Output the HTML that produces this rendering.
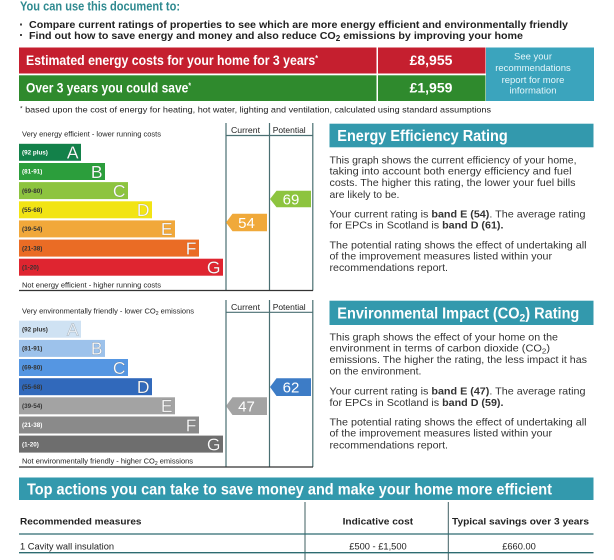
<!DOCTYPE html>
<html><head><meta charset="utf-8">
<style>
html,body{margin:0;padding:0;background:#fff;}
svg{display:block;}
text{font-family:"Liberation Sans",Arial,sans-serif;}
</style></head>
<body>
<svg width="614" height="560" viewBox="0 0 614 560" xmlns="http://www.w3.org/2000/svg">
<rect width="614" height="560" fill="#fff"/>

<!-- Header -->
<text x="20" y="10.5" font-size="12.5" font-weight="bold" fill="#2f8a90" textLength="160" lengthAdjust="spacingAndGlyphs">You can use this document to:</text>
<rect x="20" y="23.5" width="2" height="2" fill="#444"/>
<text x="29" y="28.2" font-size="10.5" font-weight="bold" fill="#222" textLength="539" lengthAdjust="spacingAndGlyphs">Compare current ratings of properties to see which are more energy efficient and environmentally friendly</text>
<rect x="20" y="34" width="2" height="2" fill="#444"/>
<text x="29" y="38.8" font-size="10.5" font-weight="bold" fill="#222" textLength="494" lengthAdjust="spacingAndGlyphs">Find out how to save energy and money and also reduce CO<tspan font-size="8" dy="2">2</tspan><tspan dy="-2"> emissions by improving your home</tspan></text>

<!-- Cost boxes -->
<rect x="19" y="47.5" width="357.5" height="26" fill="#c51f2f"/>
<rect x="378" y="47.5" width="107.5" height="26" fill="#c51f2f"/>
<rect x="19" y="75.3" width="357.5" height="25.7" fill="#2f8a2d"/>
<rect x="378" y="75.3" width="107.5" height="25.7" fill="#2f8a2d"/>
<rect x="486" y="47.5" width="108" height="53.5" fill="#3ba4bd"/>
<text x="26" y="65" font-size="14" font-weight="bold" fill="#fff" textLength="292" lengthAdjust="spacingAndGlyphs">Estimated energy costs for your home for 3 years<tspan font-size="8" dy="-4">*</tspan></text>
<text x="26" y="92.3" font-size="14" font-weight="bold" fill="#fff" textLength="165" lengthAdjust="spacingAndGlyphs">Over 3 years you could save<tspan font-size="8" dy="-4">*</tspan></text>
<text x="431" y="65" font-size="14" font-weight="bold" fill="#fff" text-anchor="middle">£8,955</text>
<text x="431" y="92.3" font-size="14" font-weight="bold" fill="#fff" text-anchor="middle">£1,959</text>
<g font-size="9.5" fill="#e6f6fa" text-anchor="middle">
<text x="533" y="59.5">See your</text>
<text x="533" y="71">recommendations</text>
<text x="533" y="83">report for more</text>
<text x="533" y="93.5">information</text>
</g>
<text x="20" y="112.5" font-size="8.3" fill="#222" textLength="471" lengthAdjust="spacingAndGlyphs"><tspan font-size="6" dy="-2">*</tspan><tspan dy="2"> based upon the cost of energy for heating, hot water, lighting and ventilation, calculated using standard assumptions</tspan></text>

<!-- Energy efficiency chart -->
<g stroke="#4a6f72" stroke-width="1.2" fill="none">
<line x1="226" y1="123" x2="226" y2="290.5"/>
<line x1="269.5" y1="123" x2="269.5" y2="290.5"/>
<line x1="312.8" y1="123" x2="312.8" y2="290.5"/>
<line x1="226" y1="135.5" x2="312.8" y2="135.5"/>
</g>
<line x1="19" y1="290.5" x2="313" y2="290.5" stroke="#333" stroke-width="1.2"/>
<text x="231" y="133.2" font-size="8.5" fill="#222" textLength="29" lengthAdjust="spacingAndGlyphs">Current</text>
<text x="272.7" y="133.2" font-size="8.5" fill="#222" textLength="33" lengthAdjust="spacingAndGlyphs">Potential</text>
<text x="22" y="136.3" font-size="7.3" fill="#222" textLength="139" lengthAdjust="spacingAndGlyphs">Very energy efficient - lower running costs</text>
<text x="22" y="287.3" font-size="7.3" fill="#222" textLength="139" lengthAdjust="spacingAndGlyphs">Not energy efficient - higher running costs</text>

<g>
<rect x="19" y="143.8" width="62" height="17" fill="#13814a"/>
<rect x="19" y="163" width="86" height="17" fill="#2c9e3c"/>
<rect x="19" y="182.1" width="109" height="17" fill="#8dc43f"/>
<rect x="19" y="201.3" width="133" height="17" fill="#f2e414"/>
<rect x="19" y="220.4" width="156" height="17" fill="#f1a83a"/>
<rect x="19" y="239.6" width="180" height="17" fill="#ea6c25"/>
<rect x="19" y="258.7" width="204" height="17" fill="#df2530"/>
</g>
<g font-size="6.3" font-weight="bold">
<text x="22" y="154.5" fill="#fff">(92 plus)</text>
<text x="22" y="173.7" fill="#fff">(81-91)</text>
<text x="22" y="192.8" fill="#333">(69-80)</text>
<text x="22" y="212" fill="#333">(55-68)</text>
<text x="22" y="231.1" fill="#333">(39-54)</text>
<text x="22" y="250.3" fill="#333">(21-38)</text>
<text x="22" y="269.4" fill="#333">(1-20)</text>
</g>
<g font-size="17.5" fill="#fff" text-anchor="end" stroke="rgba(0,0,0,0.18)" stroke-width="0.5">
<text x="78.5" y="158.6">A</text>
<text x="102.5" y="177.8">B</text>
<text x="125.5" y="196.9">C</text>
<text x="149.5" y="216.1">D</text>
<text x="172.5" y="235.2">E</text>
<text x="196.5" y="254.4">F</text>
<text x="220.5" y="273.5">G</text>
</g>
<polygon points="226,222.5 232.5,213.7 267,213.7 267,231.3 232.5,231.3" fill="#f0a93a"/>
<text x="246.5" y="228" font-size="15" fill="#fff" text-anchor="middle">54</text>
<polygon points="270,199 276.5,190.7 311,190.7 311,207.3 276.5,207.3" fill="#8dc43f"/>
<text x="291" y="204.5" font-size="15" fill="#fff" text-anchor="middle">69</text>

<!-- Energy Efficiency text panel -->
<rect x="329.5" y="123.7" width="264" height="23.6" fill="#3399ad"/>
<text x="337.3" y="141" font-size="15.5" font-weight="bold" fill="#fff" textLength="170.4" lengthAdjust="spacingAndGlyphs">Energy Efficiency Rating</text>
<g font-size="10.4" fill="#333">
<text x="329.5" y="163.4" textLength="247" lengthAdjust="spacingAndGlyphs">This graph shows the current efficiency of your home,</text>
<text x="329.5" y="174.6" textLength="242" lengthAdjust="spacingAndGlyphs">taking into account both energy efficiency and fuel</text>
<text x="329.5" y="186" textLength="246" lengthAdjust="spacingAndGlyphs">costs. The higher this rating, the lower your fuel bills</text>
<text x="329.5" y="197.8">are likely to be.</text>
<text x="329.5" y="217.4" textLength="256" lengthAdjust="spacingAndGlyphs">Your current rating is <tspan font-weight="bold">band E (54)</tspan>. The average rating</text>
<text x="329.5" y="228.6" textLength="174" lengthAdjust="spacingAndGlyphs">for EPCs in Scotland is <tspan font-weight="bold">band D (61).</tspan></text>
<text x="329.5" y="248.4" textLength="257" lengthAdjust="spacingAndGlyphs">The potential rating shows the effect of undertaking all</text>
<text x="329.5" y="259.6" textLength="222.5" lengthAdjust="spacingAndGlyphs">of the improvement measures listed within your</text>
<text x="329.5" y="270.8" textLength="118.5" lengthAdjust="spacingAndGlyphs">recommendations report.</text>
</g>

<!-- Environmental impact chart -->
<g stroke="#4a6f72" stroke-width="1.2" fill="none">
<line x1="226" y1="300" x2="226" y2="467"/>
<line x1="269.5" y1="300" x2="269.5" y2="467"/>
<line x1="312.8" y1="300" x2="312.8" y2="467"/>
<line x1="226" y1="312.3" x2="312.8" y2="312.3"/>
</g>
<line x1="19" y1="467" x2="313" y2="467" stroke="#333" stroke-width="1.2"/>
<text x="231" y="310.2" font-size="8.5" fill="#222" textLength="29" lengthAdjust="spacingAndGlyphs">Current</text>
<text x="272.7" y="310.2" font-size="8.5" fill="#222" textLength="33" lengthAdjust="spacingAndGlyphs">Potential</text>
<text x="22" y="313.3" font-size="7.3" fill="#222" textLength="172" lengthAdjust="spacingAndGlyphs">Very environmentally friendly - lower CO<tspan font-size="5" dy="1.5">2</tspan><tspan dy="-1.5"> emissions</tspan></text>
<text x="22" y="463.6" font-size="7.3" fill="#222" textLength="171" lengthAdjust="spacingAndGlyphs">Not environmentally friendly - higher CO<tspan font-size="5" dy="1.5">2</tspan><tspan dy="-1.5"> emissions</tspan></text>

<g>
<rect x="19" y="320.7" width="62" height="17" fill="#cfe2f3"/>
<rect x="19" y="339.9" width="86" height="17" fill="#9dc2eb"/>
<rect x="19" y="359" width="109" height="17" fill="#5596e2"/>
<rect x="19" y="378.2" width="133" height="17" fill="#3169bb"/>
<rect x="19" y="397.3" width="156" height="17" fill="#a3a3a3"/>
<rect x="19" y="416.5" width="180" height="17" fill="#8a8a8a"/>
<rect x="19" y="435.6" width="204" height="17" fill="#6e6e6e"/>
</g>
<g font-size="6.3" font-weight="bold">
<text x="22" y="331.4" fill="#333">(92 plus)</text>
<text x="22" y="350.6" fill="#333">(81-91)</text>
<text x="22" y="369.7" fill="#333">(69-80)</text>
<text x="22" y="388.9" fill="#333">(55-68)</text>
<text x="22" y="408" fill="#333">(39-54)</text>
<text x="22" y="427.2" fill="#fff">(21-38)</text>
<text x="22" y="446.3" fill="#fff">(1-20)</text>
</g>
<g font-size="17.5" fill="#fff" text-anchor="end" stroke="rgba(0,0,0,0.25)" stroke-width="0.5">
<text x="78.5" y="335.5" fill="#eef5fb">A</text>
<text x="102.5" y="354.7">B</text>
<text x="125.5" y="373.8">C</text>
<text x="149.5" y="393">D</text>
<text x="172.5" y="412.1">E</text>
<text x="196.5" y="431.3">F</text>
<text x="220.5" y="450.4">G</text>
</g>
<polygon points="226,406 232.5,397.3 267,397.3 267,415 232.5,415" fill="#a3a3a3"/>
<text x="246.5" y="411.6" font-size="15" fill="#fff" text-anchor="middle">47</text>
<polygon points="270,387 276.5,378.3 311,378.3 311,396 276.5,396" fill="#3d7cc6"/>
<text x="291" y="392.6" font-size="15" fill="#fff" text-anchor="middle">62</text>

<!-- Environmental text panel -->
<rect x="329.5" y="300.7" width="264" height="24.3" fill="#3399ad"/>
<text x="337.3" y="318.5" font-size="15.5" font-weight="bold" fill="#fff" textLength="242" lengthAdjust="spacingAndGlyphs">Environmental Impact (CO<tspan font-size="11" dy="3">2</tspan><tspan dy="-3">) Rating</tspan></text>
<g font-size="10.4" fill="#333">
<text x="329.5" y="340.4" textLength="228.5" lengthAdjust="spacingAndGlyphs">This graph shows the effect of your home on the</text>
<text x="329.5" y="351.4" textLength="220.5" lengthAdjust="spacingAndGlyphs">environment in terms of carbon dioxide (CO<tspan font-size="7.5" dy="2">2</tspan><tspan dy="-2">)</tspan></text>
<text x="329.5" y="363" textLength="257.5" lengthAdjust="spacingAndGlyphs">emissions. The higher the rating, the less impact it has</text>
<text x="329.5" y="374.7">on the environment.</text>
<text x="329.5" y="394.4" textLength="256" lengthAdjust="spacingAndGlyphs">Your current rating is <tspan font-weight="bold">band E (47)</tspan>. The average rating</text>
<text x="329.5" y="406" textLength="174" lengthAdjust="spacingAndGlyphs">for EPCs in Scotland is <tspan font-weight="bold">band D (59).</tspan></text>
<text x="329.5" y="425.4" textLength="257" lengthAdjust="spacingAndGlyphs">The potential rating shows the effect of undertaking all</text>
<text x="329.5" y="436.7" textLength="222.5" lengthAdjust="spacingAndGlyphs">of the improvement measures listed within your</text>
<text x="329.5" y="448.4" textLength="118.5" lengthAdjust="spacingAndGlyphs">recommendations report.</text>
</g>

<!-- Top actions -->
<rect x="19" y="477.5" width="574.5" height="22.5" fill="#3399ad"/>
<text x="27" y="494.5" font-size="15.5" font-weight="bold" fill="#fff" textLength="525" lengthAdjust="spacingAndGlyphs">Top actions you can take to save money and make your home more efficient</text>
<g stroke="#3f5f62" stroke-width="1">
<line x1="305" y1="502" x2="305" y2="560"/>
<line x1="448.3" y1="502" x2="448.3" y2="560"/>
</g>
<line x1="19" y1="534" x2="593.5" y2="534" stroke="#2d6b70" stroke-width="1.3"/>
<line x1="19" y1="552.7" x2="593.5" y2="552.7" stroke="#2d6b70" stroke-width="1.3"/>
<g font-size="9.5" font-weight="bold" fill="#222">
<text x="20" y="524.4" textLength="121.5" lengthAdjust="spacingAndGlyphs">Recommended measures</text>
<text x="342.6" y="524.4" textLength="70.5" lengthAdjust="spacingAndGlyphs">Indicative cost</text>
<text x="452" y="524.4" textLength="137" lengthAdjust="spacingAndGlyphs">Typical savings over 3 years</text>
</g>
<g font-size="9.3" fill="#222">
<text x="20" y="549.3">1 Cavity wall insulation</text>
<text x="378" y="549.3" text-anchor="middle">£500 - £1,500</text>
<text x="519" y="549.3" text-anchor="middle">£660.00</text>
</g>
</svg>
</body></html>
